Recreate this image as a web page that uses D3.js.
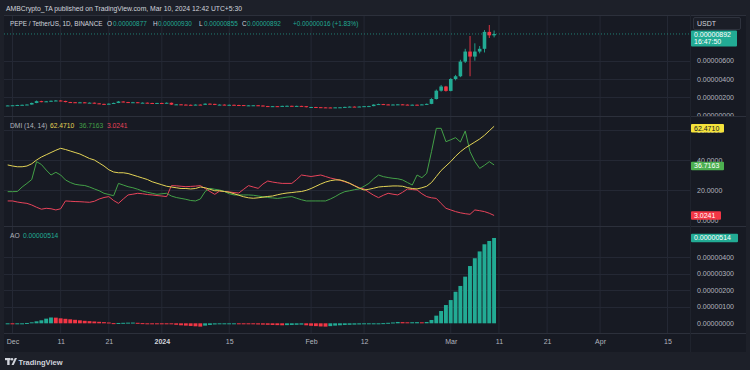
<!DOCTYPE html>
<html><head><meta charset="utf-8">
<script src="https://cdn.jsdelivr.net/npm/d3@7"></script>
<style>
html,body{margin:0;padding:0;background:#1d2029;}
svg{display:block;font-family:"Liberation Sans",Arial,sans-serif;}
</style></head><body>
<svg id="c" width="750" height="370"></svg>
<script>
// ---- DATA (price values in units of 1e-8 USDT) ----
const startDate = "2023-11-30"; // first daily candle
const opens = [
110,111,113,116,118,121,138,158,150,156,
162,165,160,148,146,142,145,140,141,134,
128,124,130,138,154,148,145,146,140,141,
138,136,138,137,140,120,123,120,118,116,
120,118,130,128,118,120,117,118,116,115,
110,112,113,110,104,100,103,101,106,107,
104,106,103,92,94,92,90,89,88,90,
91,95,98,97,99,103,104,120,126,122,
118,121,123,120,118,119,117,122,128,181,
272,318,270,400,430,590,700,645,700,730,
915,877];
const highs = [
114,115,118,120,123,142,165,162,160,165,
170,168,162,150,148,150,148,144,143,136,
130,134,142,160,156,150,150,148,144,143,
140,140,141,144,142,126,126,123,121,122,
122,134,133,129,123,122,121,120,118,116,
115,115,114,111,106,105,105,108,110,108,
108,107,104,96,96,94,92,91,92,93,
97,100,101,101,105,107,124,130,128,124,
123,126,126,122,121,121,124,132,190,285,
335,325,410,445,610,730,870,790,760,935,
990,930];
const lows = [
108,109,111,114,116,119,135,146,148,153,
158,157,145,143,139,140,137,138,131,125,
121,122,128,136,145,142,143,137,138,135,
133,134,135,135,116,118,117,115,113,114,
115,116,125,115,116,114,115,113,112,107,
108,110,107,102,97,98,99,99,104,102,
102,101,90,90,89,88,86,86,87,88,
89,93,95,95,97,101,102,117,120,115,
116,119,118,116,115,115,116,120,125,176,
262,262,265,385,420,575,430,600,680,690,
848,855];
const closes = [
111,113,116,118,121,138,158,150,156,162,
165,160,148,146,142,145,140,141,134,128,
124,130,138,154,148,145,146,140,141,138,
136,138,137,140,120,123,120,118,116,120,
118,130,128,118,120,117,118,116,115,110,
112,113,110,104,100,103,101,106,107,104,
106,103,92,94,92,90,89,88,90,91,
95,98,97,99,103,104,120,126,122,118,
121,123,120,118,119,117,122,128,181,272,
318,270,400,430,590,700,645,700,730,915,
877,892];
const changeText = "+0.00000016 (+1.83%)";
const adx = [
36.7,36,35.5,35.5,36,37.5,40,42,43.5,45,
46.5,47.8,47,46,45,44,42.5,41,40,38,
36,33.5,32,31.5,31.5,31,30,29,28,27,
25.5,24.5,23.5,22.5,22,21.5,21,21,20.7,21,
22,21.5,20.5,19.5,19.5,19,18.5,17.5,16.5,15.5,
14.8,14.5,14.8,15.2,15.7,16,16.8,17.5,18,18.3,
18.7,19,19.8,21,22.5,24,25.3,26.2,26.7,26.7,
25.8,24.5,22.8,21.2,20,20.5,21.2,22,22.3,22.5,
22.7,22.7,22.5,21.6,21,20.7,21.5,22.5,25,29,
33,36,39,42.5,45.5,48,50,52,54,56.5,
59.5,62.471];
const plusDI = [
18.9,18.9,19,22,24.4,27,38.9,37,33.3,30,
31.8,30,26.7,25,23.8,23.3,23,22,20.7,19.5,
17.8,17,16.2,24.4,23.3,22.2,21.5,20.5,19.3,18.5,
17.8,17.1,17.5,17.8,16,15,14.4,13.8,13,12.7,
14,19,21.1,20.5,20,19,17.5,16.7,16.7,16.7,
16.7,16.5,16,15.5,15,14.7,14.4,14.8,15.3,15.6,
14.5,13.5,12.7,12.7,12.7,12.7,12.7,14,15.6,17.5,
18.9,19.5,20.2,20.7,22.5,24.4,27.5,30,28.9,28.3,
27.8,27.5,26.7,25,23.3,30,28.2,31.1,45.6,61.1,
61.1,52.2,53.5,54.9,52,59.3,45.6,39,34.4,36.5,
38.9,36.7163];
const minusDI = [
12.7,12.7,12,11.5,11.1,10,8.5,7.2,7.8,7.5,
6.7,7.5,12.7,12.5,12.3,12.2,12,11.8,12.5,14,
15,15.6,13,11.1,14,16.7,17.2,17.8,17.5,17,
16.7,16.3,16,15.6,22.9,22.8,22.5,22.2,22.4,22.6,
22.9,21,19,17.1,19.3,19,18.7,18.3,18,20.5,
22.9,22,21.1,24,26,25.3,24.8,24.4,24.4,24.4,
27,30,29.5,29,29.5,30,29,28,27.3,26.5,
25.5,24.4,23,21.5,20.7,18.5,16.5,14.9,16.5,17.8,
17.2,16.7,18.5,20.7,20.3,20,17.5,15.6,14.8,14.4,
11,7.8,6.7,5.6,4.8,4.2,3.8,6.7,6.2,5.6,
4.5,3.0241];
const ao = [
-4,-5,-3,-1,2,6,12,18,28,35,
34,30,27,24,21,18,15,13,11,9,
7,5,1,2,3,4,4.5,3,1,0,
-1,-2,-3,-4,-6,-9,-12,-14,-16,-18,
-20,-14,-10,-7,-4,-2,-1,0,-2,-4,
-5,-6,-7,-8,-9,-10,-11,-12,-11,-10,
-9,-8,-12,-15,-17,-19,-20,-17,-14,-12,
-10,-9,-8,-7,-6,-5,-3,-1,1,3,
5,8,7,6,6.5,7,6,8,20,46,
74,110,140,190,225,281,345,392,433,476,
496,514];
const timeTickDates = ["2023-12-01","2023-12-11","2023-12-21","2024-01-01","2024-01-15","2024-02-01","2024-02-12","2024-03-01","2024-03-11","2024-03-21","2024-04-01","2024-04-15"];
const timeTickLabels = ["Dec","11","21","2024","15","Feb","12","Mar","11","21","Apr","15"];
const priceTicks = [0,200,400,600];
const dmiTicks = [0,20,40,60];
const aoTicks = [0,100,200,300,400];

// ---- STYLE ----
const UP = "#22ab94", DOWN = "#f23645";
const C_ADX = "#e3d356", C_PDI = "#43a047", C_MDI = "#e8435a";
const GRID = "#242834", SEP = "#2c303b", TXT = "#b2b5be";
const FS = 6.7;

const svg = d3.select("#c");
const parse = d3.utcParse("%Y-%m-%d");
const t0 = parse(startDate);
const dates = closes.map((_, i) => d3.utcDay.offset(t0, i));
const tickDates = timeTickDates.map(parse);

const x = d3.scaleUtc().domain([parse("2023-12-01"), parse("2024-04-15")]).range([12.5, 667.5]);
const yP = d3.scaleLinear().domain([0, 600]).range([115.6, 60.7]);
const yD = d3.scaleLinear().domain([0, 60]).range([220, 130]);
const yA = d3.scaleLinear().domain([0, 400]).range([323.3, 256.9]);

const L = 4, R = 690, AX = 746;
const panes = [{id:"p", y0:15, y1:116}, {id:"d", y0:116, y1:226}, {id:"a", y0:226, y1:333}];

// background
svg.append("rect").attr("x", 0).attr("y", 0).attr("width", 750).attr("height", 370).attr("fill", "#1d2029");
svg.append("rect").attr("x", L).attr("y", 15).attr("width", AX - L).attr("height", 337).attr("fill", "#171a23");

const defs = svg.append("defs");
panes.forEach(p => {
  defs.append("clipPath").attr("id", "clip-" + p.id).append("rect")
    .attr("x", L).attr("y", p.y0).attr("width", R - L).attr("height", p.y1 - p.y0);
  defs.append("clipPath").attr("id", "clipax-" + p.id).append("rect")
    .attr("x", R).attr("y", p.y0).attr("width", AX - R).attr("height", p.y1 - p.y0);
});

// vertical grid
const g = svg.append("g");
g.selectAll("line.v").data(tickDates).join("line")
  .attr("x1", d => x(d)).attr("x2", d => x(d)).attr("y1", 15).attr("y2", 333)
  .attr("stroke", GRID).attr("stroke-width", 1);
// horizontal grid
function hgrid(scale, vals) {
  g.append("g").selectAll("line").data(vals).join("line")
    .attr("x1", L).attr("x2", R).attr("y1", d => Math.round(scale(d)) + 0.5).attr("y2", d => Math.round(scale(d)) + 0.5)
    .attr("stroke", GRID).attr("stroke-width", 1);
}
hgrid(yP, [200, 400, 600]);
hgrid(yD, [20, 40, 60]);
hgrid(yA, [100, 200, 300, 400]);

// separators
[116, 226, 333].forEach(yy => svg.append("line").attr("x1", L).attr("x2", AX).attr("y1", yy + 0.5).attr("y2", yy + 0.5).attr("stroke", SEP));
svg.append("line").attr("x1", L).attr("x2", AX).attr("y1", 15.5).attr("y2", 15.5).attr("stroke", SEP);
svg.append("line").attr("x1", R + 0.5).attr("x2", R + 0.5).attr("y1", 15).attr("y2", 352).attr("stroke", "#1f232d");

// ---- PRICE PANE ----
const pp = svg.append("g").attr("clip-path", "url(#clip-p)");
const lastIdx = closes.length - 1;
pp.append("line").attr("x1", L).attr("x2", R)
  .attr("y1", yP(closes[lastIdx])).attr("y2", yP(closes[lastIdx]))
  .attr("stroke", UP).attr("stroke-opacity", 0.7).attr("stroke-dasharray", "1,2");
const cd = closes.map((c, i) => ({d: dates[i], o: opens[i], h: highs[i], l: lows[i], c}));
pp.selectAll("line.w").data(cd).join("line")
  .attr("x1", d => x(d.d)).attr("x2", d => x(d.d))
  .attr("y1", d => yP(d.h)).attr("y2", d => yP(d.l))
  .attr("stroke", d => d.c >= d.o ? UP : DOWN).attr("stroke-width", 0.9);
pp.selectAll("rect.b").data(cd).join("rect")
  .attr("x", d => x(d.d) - 1.8).attr("width", 3.6)
  .attr("y", d => yP(Math.max(d.o, d.c)))
  .attr("height", d => Math.max(1, Math.abs(yP(d.o) - yP(d.c))))
  .attr("fill", d => d.c >= d.o ? UP : DOWN);

// ---- DMI PANE ----
const dp = svg.append("g").attr("clip-path", "url(#clip-d)");
const lineD = d3.line().x((v, i) => x(dates[i])).y(v => yD(v));
[[minusDI, C_MDI], [plusDI, C_PDI], [adx, C_ADX]].forEach(([arr, col]) => {
  dp.append("path").attr("d", lineD(arr)).attr("fill", "none").attr("stroke", col).attr("stroke-width", 1);
});

// ---- AO PANE ----
const ap = svg.append("g").attr("clip-path", "url(#clip-a)");
ap.selectAll("rect").data(ao).join("rect")
  .attr("x", (v, i) => x(dates[i]) - 2).attr("width", 3.9)
  .attr("y", v => Math.min(yA(v), yA(0)))
  .attr("height", v => Math.max(1, Math.abs(yA(v) - yA(0))))
  .attr("fill", (v, i) => (i === 0 || v >= ao[i - 1]) ? UP : DOWN);

// ---- AXES ----
const fmt8 = v => (v * 1e-8).toFixed(8);
function rightAxis(scale, ticks, fmt, id) {
  const a = svg.append("g").attr("clip-path", "url(#clipax-" + id + ")").append("g")
    .attr("transform", "translate(697,0)")
    .call(d3.axisRight(scale).tickValues(ticks).tickSize(0).tickPadding(0).tickFormat(fmt));
  a.select(".domain").remove();
  a.selectAll("text").attr("fill", TXT).attr("font-size", 7).attr("font-family", "Liberation Sans, Arial, sans-serif");
}
rightAxis(yP, priceTicks, fmt8, "p");
rightAxis(yD, dmiTicks, v => v.toFixed(4), "d");
rightAxis(yA, aoTicks, fmt8, "a");

const tx = svg.append("g").attr("transform", "translate(0,338)")
  .call(d3.axisBottom(x).tickValues(tickDates).tickSize(0).tickPadding(1).tickFormat((d, i) => timeTickLabels[i]));
tx.select(".domain").remove();
tx.selectAll("text").attr("font-size", 7).attr("font-family", "Liberation Sans, Arial, sans-serif")
  .attr("font-weight", (d, i) => timeTickLabels[i] === "2024" ? "bold" : null)
  .attr("fill", (d, i) => timeTickLabels[i] === "2024" ? "#d1d4dc" : TXT);

// ---- VALUE LABELS ON SCALES ----
function tag(yc, w, h, fill, lines, tcol) {
  svg.append("rect").attr("x", 691).attr("y", yc - h / 2).attr("width", w).attr("height", h).attr("rx", 1).attr("fill", fill);
  lines.forEach((s, k) => svg.append("text").attr("x", 694).attr("y", yc - h / 2 + 6.5 + k * 7)
    .attr("font-size", 7).attr("fill", tcol).text(s));
}
tag(yP(closes[lastIdx]) + 4.5, 46, 16, UP, [fmt8(closes[lastIdx]), "16:47:50"], "#ffffff");
svg.append("rect").attr("x", 693.5).attr("y", 17.5).attr("width", 47).attr("height", 12).attr("rx", 1.5)
  .attr("fill", "#1b1e27").attr("stroke", "#2e323d");
svg.append("text").attr("x", 697).attr("y", 26).attr("font-size", 7).attr("fill", "#d1d4dc").text("USDT");
tag(yD(adx[lastIdx]) + 2, 33, 8.4, "#f5e33b", [adx[lastIdx].toFixed(4)], "#131722");
tag(yD(plusDI[lastIdx]) + 1, 33, 8.4, "#4caf50", [plusDI[lastIdx].toFixed(4)], "#ffffff");
tag(yD(minusDI[lastIdx]), 30, 8.4, "#f23645", [minusDI[lastIdx].toFixed(4)], "#ffffff");
tag(yA(ao[lastIdx]), 47, 8.4, UP, [fmt8(ao[lastIdx])], "#ffffff");

// ---- HEADER / LEGENDS ----
svg.append("text").attr("x", 6).attr("y", 10.5).attr("font-size", 6.8).attr("fill", "#d1d4dc")
  .text("AMBCrypto_TA published on TradingView.com, Mar 10, 2024 12:42 UTC+5:30");
const leg = [
  ["PEPE / TetherUS, 1D, BINANCE", 10, "#d1d4dc"],
  ["O", 107, "#d1d4dc"], [fmt8(opens[lastIdx]), 113, UP],
  ["H", 153, "#d1d4dc"], [fmt8(highs[lastIdx]), 158, UP],
  ["L", 199, "#d1d4dc"], [fmt8(lows[lastIdx]), 204, UP],
  ["C", 242, "#d1d4dc"], [fmt8(closes[lastIdx]), 247, UP],
  [changeText, 293, UP]
];
leg.forEach(([s, xx, col]) => svg.append("text").attr("x", xx).attr("y", 25.5).attr("font-size", 6.4).attr("fill", col).text(s));

const dl = svg.append("text").attr("x", 10).attr("y", 128).attr("font-size", FS);
dl.append("tspan").attr("fill", TXT).text("DMI (14, 14)");
dl.append("tspan").attr("x", 50).attr("fill", C_ADX).text(adx[lastIdx].toFixed(4));
dl.append("tspan").attr("x", 79).attr("fill", C_PDI).text(plusDI[lastIdx].toFixed(4));
dl.append("tspan").attr("x", 107).attr("fill", C_MDI).text(minusDI[lastIdx].toFixed(4));

const al = svg.append("text").attr("x", 10).attr("y", 238).attr("font-size", FS);
al.append("tspan").attr("fill", TXT).text("AO");
al.append("tspan").attr("x", 23).attr("fill", UP).text(fmt8(ao[lastIdx]));

// ---- FOOTER ----
const lg = svg.append("g").attr("fill", "#d1d4dc");
lg.append("rect").attr("x", 5).attr("y", 358).attr("width", 5.5).attr("height", 2.2);
lg.append("rect").attr("x", 7.2).attr("y", 358).attr("width", 2.4).attr("height", 7);
lg.append("circle").attr("cx", 12).attr("cy", 359.3).attr("r", 1.3);
lg.append("path").attr("d", "M11.5,365 L14.8,358 L17,358 L13.7,365 Z");
svg.append("text").attr("x", 18.5).attr("y", 364.8).attr("font-size", 7.5).attr("font-weight", "bold")
  .attr("fill", "#d1d4dc").text("TradingView");
</script>
</body></html>
